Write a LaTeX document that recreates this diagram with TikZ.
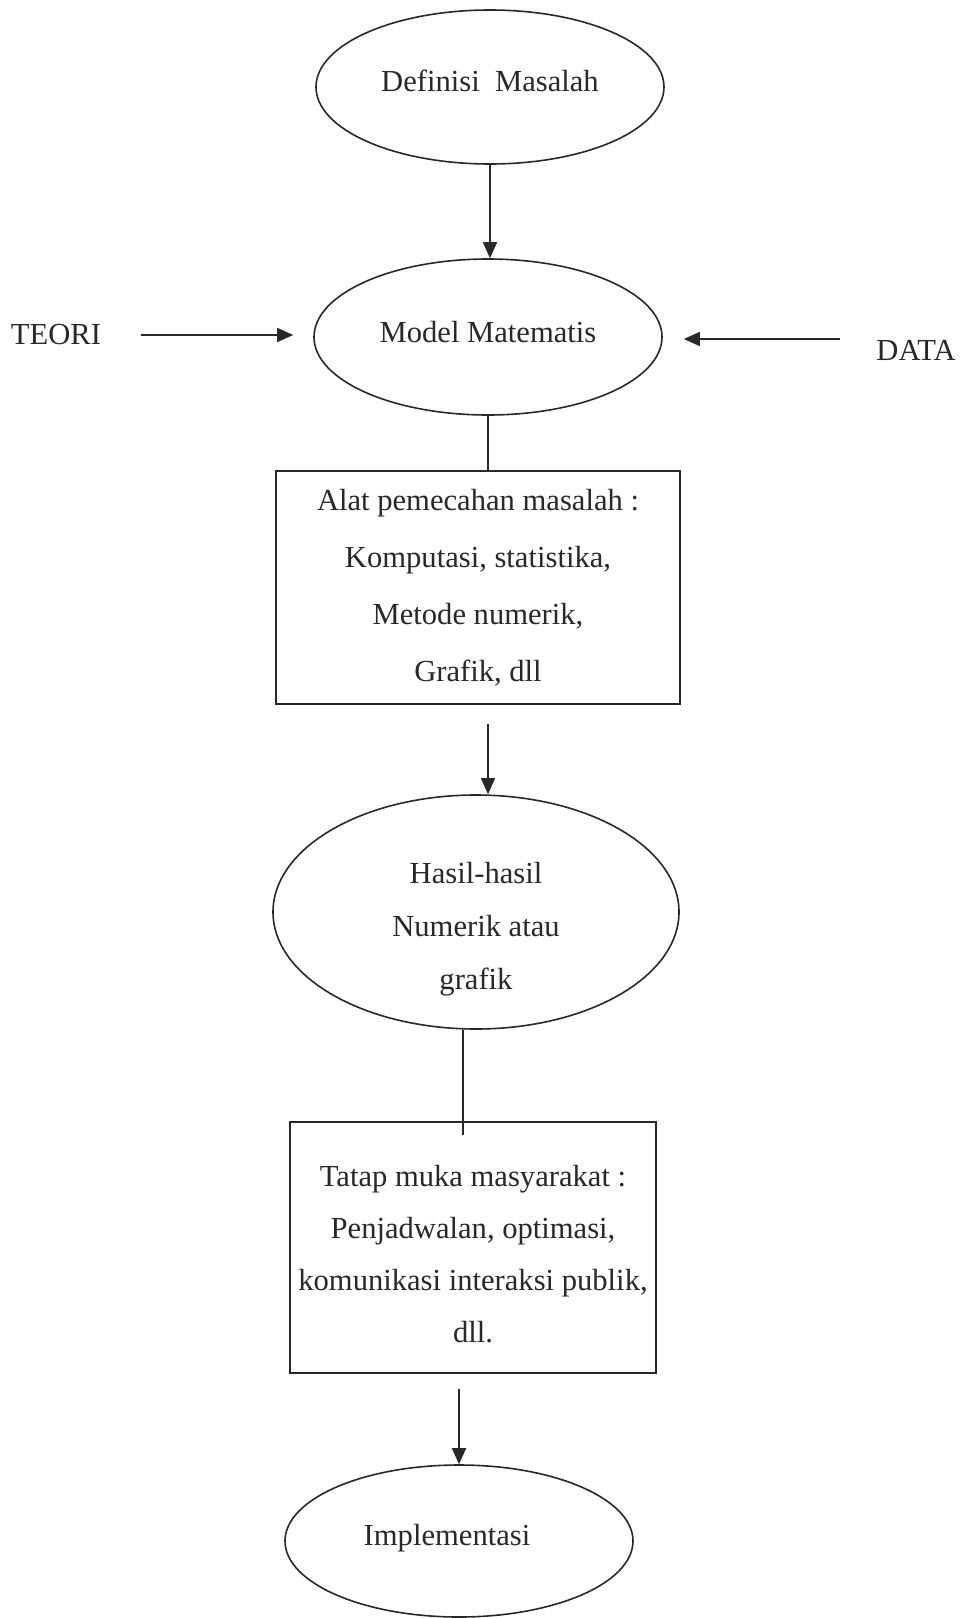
\documentclass[tikz,border=0pt]{standalone}
\usepackage{fontspec}
\setmainfont{Liberation Serif}
\usetikzlibrary{shapes.geometric,arrows.meta}
\definecolor{ink}{RGB}{40,40,40}
\begin{document}
\begin{tikzpicture}[x=0.5pt,y=-0.5pt,
  every node/.style={text=ink},
  lbl/.style={font=\fontsize{15.3}{18}\selectfont, inner sep=0pt},
  oval/.style={ellipse, draw=ink, line width=0.8pt, inner sep=0pt, align=center},
  panel/.style={rectangle, draw=ink, line width=0.8pt, inner sep=0pt, align=center},
  conn/.style={draw=ink, line width=0.8pt},
  arr/.style={conn, -{Triangle[length=8pt,width=7pt]}}
]
\useasboundingbox (0,0) rectangle (966,1618);
\fill[white] (0,0) rectangle (966,1618);

\node[oval, lbl, minimum width=174pt, minimum height=77pt, text depth=6pt] (e1) at (490,87) {Definisi\ \ Masalah};
\node[oval, lbl, minimum width=174pt, minimum height=78pt, text depth=5pt] (e2) at (488,337) {Model Matematis};
\node[lbl] (teori) at (56,335) {TEORI};
\node[lbl] (data) at (916,350) {DATA};

\node[panel, minimum width=202pt, minimum height=116.5pt,
      font=\fontsize{15.3}{28.5}\selectfont] (b1) at (478,587.5)
  {Alat pemecahan masalah :\\ Komputasi, statistika,\\ Metode numerik,\\ Grafik, dll};

\node[oval, minimum width=203pt, minimum height=117pt, inner ysep=-2pt,
      font=\fontsize{15.3}{26.5}\selectfont] (e3) at (476,912)
  {\rule{0pt}{28pt}Hasil-hasil\\ Numerik atau\\ grafik};

\node[panel, minimum width=183pt, minimum height=125.5pt,
      font=\fontsize{15.3}{26}\selectfont] (b2) at (473,1247.5)
  {\rule{0pt}{17pt}Tatap muka masyarakat :\\ Penjadwalan, optimasi,\\ komunikasi interaksi publik,\\ dll.};

\node[oval, lbl, minimum width=174pt, minimum height=76pt, text depth=6.2pt] (e4) at (459,1541) {Implementasi\hspace{12pt}};

\coordinate (l4end) at (463,1135);

\draw[arr] (e1.south) -- (e1.south |- e2.north);
\draw[arr, shorten <=20pt, shorten >=10pt] (teori.east) -- (teori.east -| e2.west);
\draw[arr, shorten <=18pt, shorten >=10.5pt] ([yshift=5.5pt]data.west) -- ([yshift=5.5pt]data.west -| e2.east);
\draw[conn] (e2.south) -- (e2.south |- b1.north);
\draw[arr, shorten <=9.5pt] (e2.south |- b1.south) -- (e2.south |- e3.north);
\draw[conn] (e3.south -| l4end) -- (l4end);
\draw[arr, shorten <=7.5pt] (e4.north |- b2.south) -- (e4.north);
\end{tikzpicture}
\end{document}
